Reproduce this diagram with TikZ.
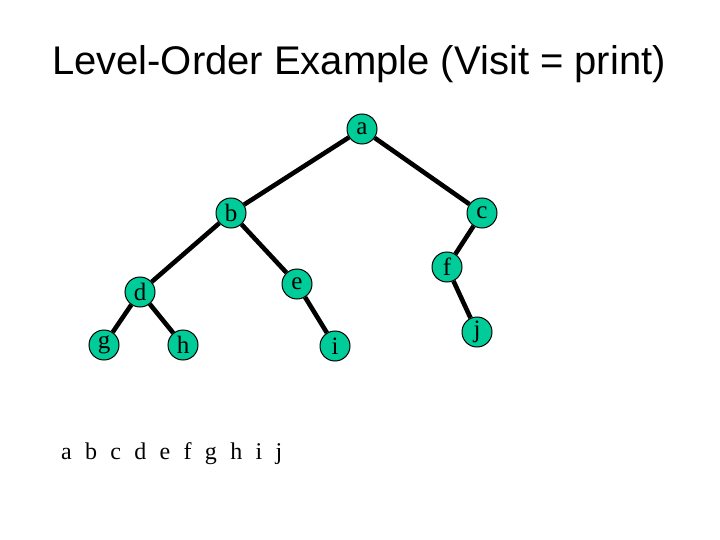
\documentclass[tikz,border=0pt]{standalone}
\usepackage{fontspec}
\setmainfont{Liberation Serif}
\newfontfamily\titlefont{Liberation Sans}
\definecolor{nodegreen}{RGB}{0,204,153}
\begin{document}
\begin{tikzpicture}[x=1pt,y=-1pt,
    vertex/.style={circle, draw, line width=1pt, fill=nodegreen,
      minimum size=30pt, inner sep=0pt,
      font=\fontsize{25}{25}\selectfont},
    edge/.style={line width=4.6pt}]
  \useasboundingbox (0,0) rectangle (720,540);
  \node (title) at (359,75) [anchor=base]
    {\titlefont\fontsize{40}{40}\selectfont Level-Order Example (Visit = print)};
  \node (a) at (362,129) [vertex] {a}; \node (b) at (231,213) [vertex] {b};
  \node (c) at (482,213) [vertex] {c}; \node (d) at (140,292) [vertex] {d};
  \node (e) at (297,284) [vertex] {e}; \node (f) at (447,267) [vertex] {f};
  \node (g) at (104,345) [vertex] {g}; \node (h) at (183,345) [vertex] {h};
  \node (i) at (335,346) [vertex] {i}; \node (j) at (477,332) [vertex] {j};
  \draw[edge] (a) -- (b); \draw[edge] (a) -- (c);
  \draw[edge] (b) -- (d); \draw[edge] (b) -- (e);
  \draw[edge] (c) -- (f); \draw[edge] (d) -- (g);
  \draw[edge] (d) -- (h); \draw[edge] (e) -- (i);
  \draw[edge] (f) -- (j);
  \node (order) at (61,459) [anchor=base west, inner sep=0pt]
    {\fontsize{24}{24}\selectfont\spaceskip=13.3pt a b c d e f g h i j};
\end{tikzpicture}
\end{document}
